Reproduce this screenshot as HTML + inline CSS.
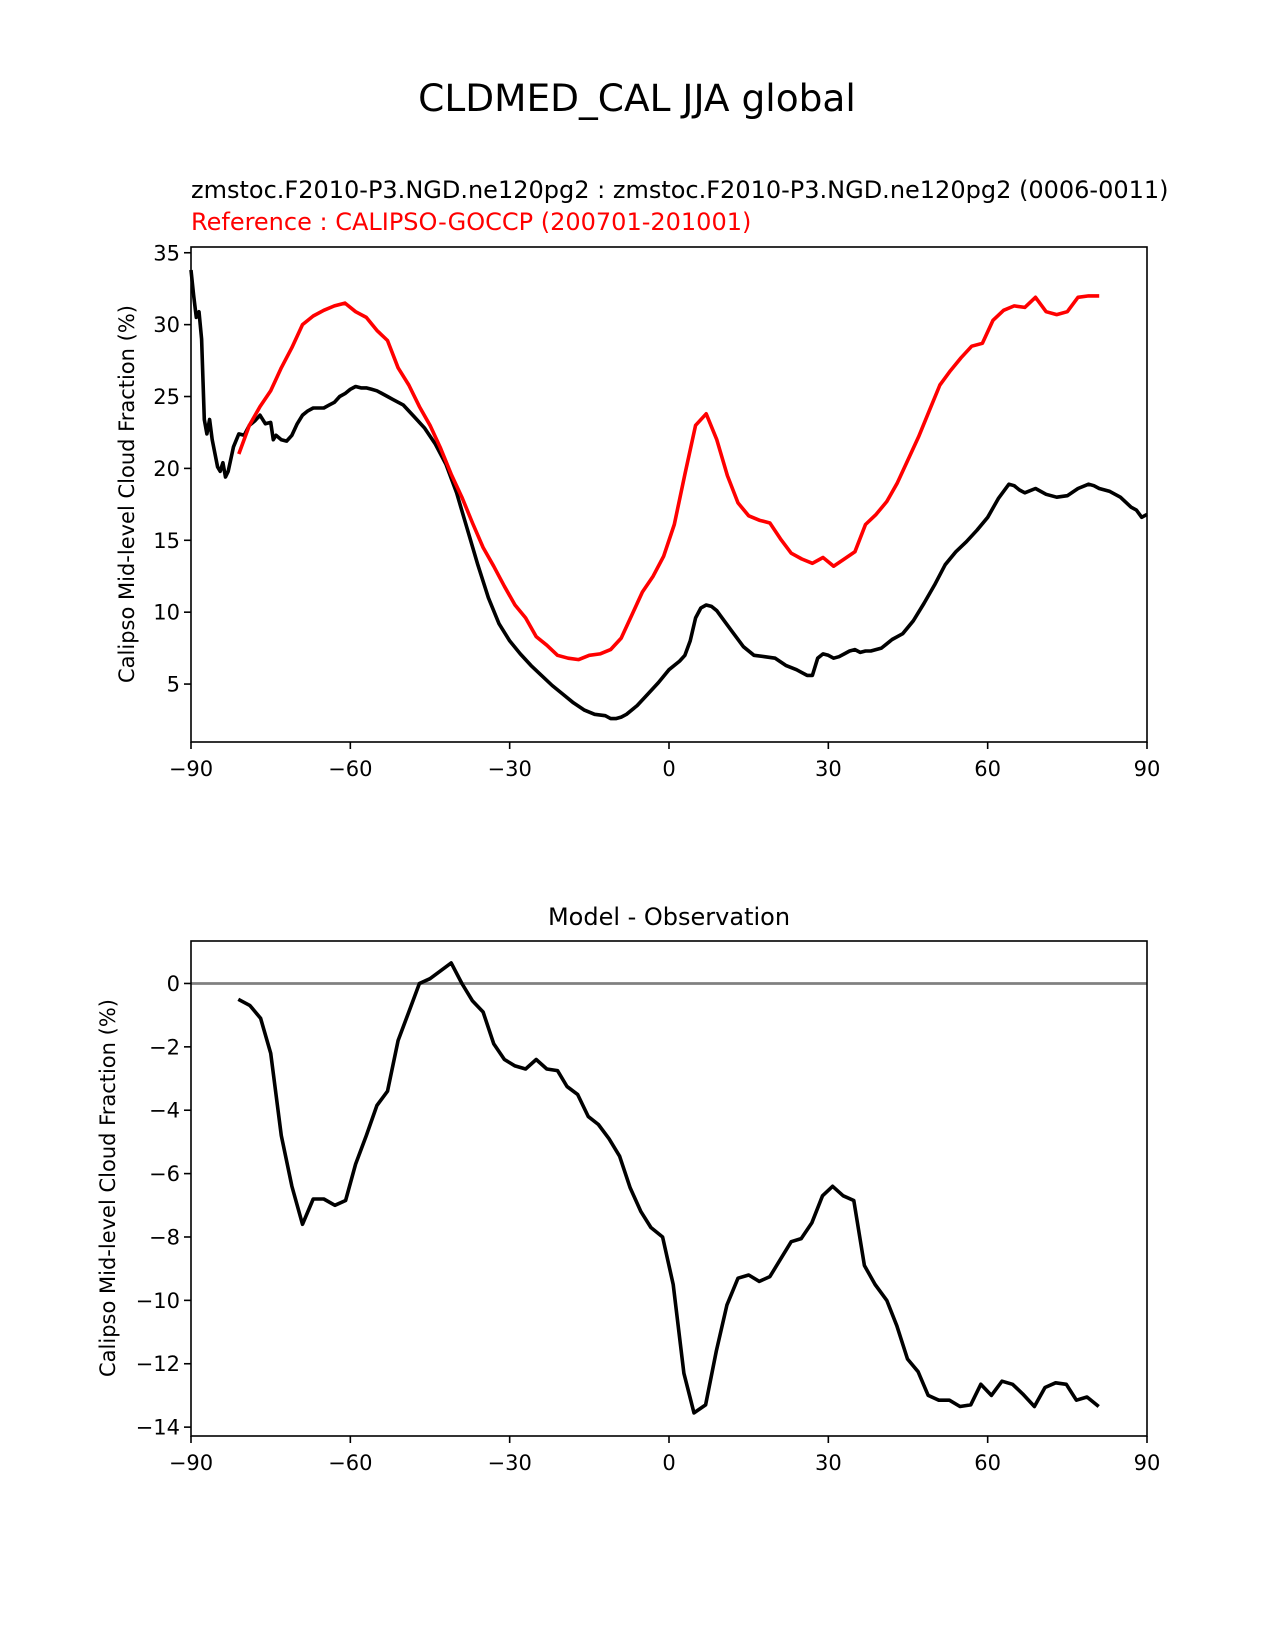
<!DOCTYPE html>
<html><head><meta charset="utf-8"><style>
html,body{margin:0;padding:0;background:#fff;}
svg{display:block;font-family:"DejaVu Sans","Liberation Sans",sans-serif;}
</style></head><body>
<svg id="fig" width="1275" height="1650" viewBox="0 0 1275 1650" xmlns="http://www.w3.org/2000/svg">
<rect width="1275" height="1650" fill="#fff"/>
<text x="637" y="111" font-size="37.5" text-anchor="middle">CLDMED_CAL JJA global</text>
<text x="191" y="198" font-size="24">zmstoc.F2010-P3.NGD.ne120pg2 : zmstoc.F2010-P3.NGD.ne120pg2 (0006-0011)</text>
<text x="191" y="230" font-size="24" fill="#ff0000">Reference : CALIPSO-GOCCP (200701-201001)</text>
<text x="669" y="925" font-size="24" text-anchor="middle">Model - Observation</text>
<g id="top"></g>
<g id="bot"></g>
</svg>
<script>
const xTicks = [-90,-60,-30,0,30,60,90];
const xTickLabels = ["\u221290","\u221260","\u221230","0","30","60","90"];
const topYTicks = [5,10,15,20,25,30,35];
const topYTickLabels = ["5","10","15","20","25","30","35"];
const botYTicks = [0,-2,-4,-6,-8,-10,-12,-14];
const botYTickLabels = ["0","\u22122","\u22124","\u22126","\u22128","\u221210","\u221212","\u221214"];
const obsLat = [-81,-79,-77,-75,-73,-71,-69,-67,-65,-63,-61,-59,-57,-55,-53,-51,-49,-47,-45,-43,-41,-39,-37,-35,-33,-31,-29,-27,-25,-23,-21,-19,-17,-15,-13,-11,-9,-7,-5,-3,-1,1,3,5,7,9,11,13,15,17,19,21,23,25,27,29,31,33,35,37,39,41,43,45,47,49,51,53,55,57,59,61,63,65,67,69,71,73,75,77,79,81];
const obsVal = [21,23,24.3,25.4,27,28.4,30,30.6,31,31.3,31.5,30.9,30.5,29.6,28.9,27,25.8,24.3,23,21.4,19.6,18,16.2,14.5,13.2,11.8,10.5,9.6,8.3,7.7,7.0,6.8,6.7,7.0,7.1,7.4,8.2,9.8,11.4,12.5,13.9,16.1,19.6,23,23.8,22,19.5,17.6,16.7,16.4,16.2,15.1,14.1,13.7,13.4,13.8,13.2,13.7,14.2,16.1,16.8,17.7,19,20.6,22.2,24,25.8,26.8,27.7,28.5,28.7,30.3,31,31.3,31.2,31.9,30.9,30.7,30.9,31.9,32,32];
const modLat = [-90,-89.5,-89,-88.5,-88,-87.5,-87,-86.5,-86,-85,-84.5,-84,-83.5,-83,-82,-81,-80,-79,-78,-77,-76,-75,-74.5,-74,-73,-72,-71,-70,-69,-68,-67,-66,-65,-64,-63,-62,-61,-60,-59,-58,-57,-56,-55,-54,-53,-52,-50,-48,-46,-44,-42,-40,-38,-36,-34,-32,-30,-28,-26,-24,-22,-20,-18,-16,-14,-12,-11,-10,-9,-8,-6,-4,-2,0,2,3,4,5,6,7,8,9,10,12,14,16,18,20,22,24,25,26,27,28,29,30,31,32,33,34,35,36,37,38,40,41,42,44,46,48,50,52,54,56,58,60,62,64,65,66,67,69,71,73,75,77,79,80,81,83,85,87,88,89,90];
const modVal = [33.8,32,30.5,30.9,29,23.4,22.4,23.4,22,20.1,19.8,20.4,19.4,19.8,21.5,22.4,22.3,23,23.3,23.7,23.1,23.2,22,22.3,22,21.9,22.3,23.1,23.7,24,24.2,24.2,24.2,24.4,24.6,25,25.2,25.5,25.7,25.6,25.6,25.5,25.4,25.2,25.0,24.8,24.4,23.6,22.8,21.7,20.3,18.3,15.8,13.3,11.0,9.2,8.0,7.1,6.3,5.6,4.9,4.3,3.7,3.2,2.9,2.8,2.6,2.6,2.7,2.9,3.5,4.3,5.1,6.0,6.6,7.0,8.0,9.6,10.3,10.5,10.4,10.1,9.6,8.6,7.6,7.0,6.9,6.8,6.3,6.0,5.8,5.6,5.6,6.8,7.1,7.0,6.8,6.9,7.1,7.3,7.4,7.2,7.3,7.3,7.5,7.8,8.1,8.5,9.4,10.6,11.9,13.3,14.2,14.9,15.7,16.6,17.9,18.9,18.8,18.5,18.3,18.6,18.2,18.0,18.1,18.6,18.9,18.8,18.6,18.4,18.0,17.3,17.1,16.6,16.8];
const diffLat = [-81.1,-78.9,-76.9,-75,-73,-71,-69,-67,-65,-62.9,-60.9,-59,-57,-55,-53,-51,-49,-47,-45,-43,-41,-39,-37,-35,-33,-31,-29,-27,-25,-23,-21,-19.2,-17.2,-15.2,-13.3,-11.3,-9.3,-7.3,-5.3,-3.4,-1.2,0.8,2.8,4.7,6.9,8.9,10.9,13,15,17,19,21,23,24.9,26.9,28.9,30.8,32.8,34.8,36.8,38.8,41,42.9,44.9,46.9,48.8,50.8,52.8,54.8,56.8,58.7,60.7,62.7,64.7,66.6,68.8,70.8,72.8,74.8,76.7,78.7,80.9];
const diffVal = [-0.5,-0.7,-1.1,-2.2,-4.8,-6.4,-7.6,-6.8,-6.8,-7.0,-6.85,-5.7,-4.8,-3.85,-3.4,-1.8,-0.9,0,0.15,0.4,0.65,0,-0.55,-0.9,-1.9,-2.4,-2.6,-2.7,-2.4,-2.7,-2.75,-3.25,-3.5,-4.2,-4.45,-4.9,-5.45,-6.45,-7.2,-7.7,-8.0,-9.5,-12.3,-13.55,-13.3,-11.6,-10.15,-9.3,-9.2,-9.4,-9.25,-8.7,-8.15,-8.05,-7.55,-6.7,-6.4,-6.7,-6.85,-8.9,-9.5,-10.0,-10.8,-11.85,-12.25,-13.0,-13.15,-13.15,-13.35,-13.3,-12.65,-13.0,-12.55,-12.65,-12.95,-13.35,-12.75,-12.6,-12.65,-13.15,-13.05,-13.35];

const NS="http://www.w3.org/2000/svg";
function mk(parent,tag,attrs){const e=document.createElementNS(NS,tag);for(const k in attrs)e.setAttribute(k,attrs[k]);parent.appendChild(e);return e;}
function axes(g,L,R,T,B,ymin,ymax,yT,yL){
  const xs=v=>L+(v+90)/180*(R-L);
  const ys=v=>B-(v-ymin)/(ymax-ymin)*(B-T);
  xTicks.forEach((t,i)=>{
    const l=mk(g,'line',{x1:xs(t),x2:xs(t),y1:B,y2:B+7,stroke:'#000','stroke-width':1.6});
    
    
    const tx=mk(g,'text',{x:xs(t),y:B+34,'font-size':21,'text-anchor':'middle'});
    tx.textContent=xTickLabels[i];
    
    
  });
  yT.forEach((t,i)=>{
    const l=mk(g,'line',{x1:L-7,x2:L,y1:ys(t),y2:ys(t),stroke:'#000','stroke-width':1.6});
    
    
    const tx=mk(g,'text',{x:L-11,y:ys(t)+7.5,'font-size':21,'text-anchor':'end'});
    tx.textContent=yL[i];
    
    
  });
  return {xs,ys};
}
function line(g,lat,val,xs,ys,color,name){
  const d=lat.map((v,i)=>(i?'L':'M')+xs(v).toFixed(1)+','+ys(val[i]).toFixed(1)).join('');
  const p=mk(g,'path',{d:d,fill:'none',stroke:color,'stroke-width':3.6,'stroke-linejoin':'round'});
  
  
}
function frame(g,L,R,T,B){
  const r=mk(g,'rect',{x:L,y:T,width:R-L,height:B-T,fill:'none',stroke:'#000','stroke-width':1.6});
  
  
}
function ylabel(g,x,cy){
  const t=mk(g,'text',{x:0,y:0,'font-size':21,'text-anchor':'middle',transform:`translate(${x},${cy}) rotate(-90)`});
  t.textContent='Calipso Mid-level Cloud Fraction (%)';
  
  
}
const gt=document.getElementById('top');
const A=axes(gt,191,1147,247,742,0.97,35.4,topYTicks,topYTickLabels);
line(gt,modLat,modVal,A.xs,A.ys,'#000','model-line');
line(gt,obsLat,obsVal,A.xs,A.ys,'#ff0000','observation-line');
frame(gt,191,1147,247,742);
ylabel(gt,134,494);
const gb=document.getElementById('bot');
const B=axes(gb,191,1147,941,1436,-14.28,1.34,botYTicks,botYTickLabels);
const z=mk(gb,'line',{x1:191,x2:1147,y1:B.ys(0),y2:B.ys(0),stroke:'#808080','stroke-width':2.8});


line(gb,diffLat,diffVal,B.xs,B.ys,'#000','difference-line');
frame(gb,191,1147,941,1436);
ylabel(gb,115,1188);
</script>
</body></html>
